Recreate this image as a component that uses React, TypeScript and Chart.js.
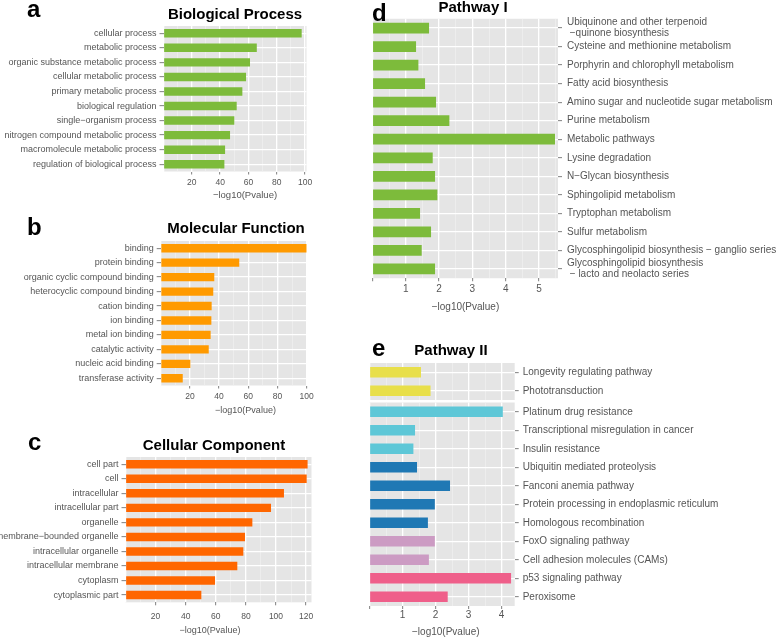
import React, { useEffect, useRef } from 'react';
import { Chart, registerables } from 'chart.js';

Chart.register(...registerables);

const FONT = "'Liberation Sans', Arial, Helvetica, sans-serif";
const TEXT_GREY = '#555555';
const TICK_GREY = '#7F7F7F';
const PANEL_BG = '#E5E5E5';

// ---------- data ----------
const bpLabels = [
  'cellular process',
  'metabolic process',
  'organic substance metabolic process',
  'cellular metabolic process',
  'primary metabolic process',
  'biological regulation',
  'single\u2212organism process',
  'nitrogen compound metabolic process',
  'macromolecule metabolic process',
  'regulation of biological process',
];
const bpValues = [97.6, 65.9, 61.1, 58.3, 55.7, 51.7, 50.0, 47.0, 43.5, 43.0];

const mfLabels = [
  'binding',
  'protein binding',
  'organic cyclic compound binding',
  'heterocyclic compound binding',
  'cation binding',
  'ion binding',
  'metal ion binding',
  'catalytic activity',
  'nucleic acid binding',
  'transferase activity',
];
const mfValues = [100, 53.8, 36.7, 36.0, 34.9, 34.7, 34.2, 32.9, 20.3, 15.1];

const ccLabels = [
  'cell part',
  'cell',
  'intracellular',
  'intracellular part',
  'organelle',
  'membrane\u2212bounded organelle',
  'intracellular organelle',
  'intracellular membrane',
  'cytoplasm',
  'cytoplasmic part',
];
const ccValues = [121.0, 120.4, 105.3, 96.7, 84.3, 79.4, 78.3, 74.3, 59.5, 50.4];

const p1Labels: (string | string[])[] = [
  ['Ubiquinone and other terpenoid', ' \u2212quinone biosynthesis'],
  'Cysteine and methionine metabolism',
  'Porphyrin and chlorophyll metabolism',
  'Fatty acid biosynthesis',
  'Amino sugar and nucleotide sugar metabolism',
  'Purine metabolism',
  'Metabolic pathways',
  'Lysine degradation',
  'N\u2212Glycan biosynthesis',
  'Sphingolipid metabolism',
  'Tryptophan metabolism',
  'Sulfur metabolism',
  'Glycosphingolipid biosynthesis \u2212 ganglio series',
  ['Glycosphingolipid biosynthesis', ' \u2212 lacto and neolacto series'],
];
const p1Values = [1.70, 1.31, 1.38, 1.58, 1.91, 2.31, 5.48, 1.81, 1.88, 1.95, 1.43, 1.76, 1.48, 1.88];

const p2TopLabels = ['Longevity regulating pathway', 'Phototransduction'];
const p2TopValues = [1.56, 1.85];
const p2TopColors = ['#E8DF4A', '#E8DF4A'];

const p2Labels = [
  'Platinum drug resistance',
  'Transcriptional misregulation in cancer',
  'Insulin resistance',
  'Ubiquitin mediated proteolysis',
  'Fanconi anemia pathway',
  'Protein processing in endoplasmic reticulum',
  'Homologous recombination',
  'FoxO signaling pathway',
  'Cell adhesion molecules (CAMs)',
  'p53 signaling pathway',
  'Peroxisome',
];
const p2Values = [4.04, 1.38, 1.33, 1.44, 2.44, 1.98, 1.77, 1.98, 1.80, 4.29, 2.37];
const p2Colors = [
  '#5EC7D7', '#5EC7D7', '#5EC7D7',
  '#1F78B4', '#1F78B4', '#1F78B4', '#1F78B4',
  '#CC9BC3', '#CC9BC3',
  '#EF5F8A', '#EF5F8A',
];

// ---------- chart building ----------
type Box = { x: number; y: number; w: number; h: number };
type Area = { l: number; t: number; r: number; b: number };
type Spec = {
  labels: (string | string[])[];
  values: number[];
  colors: string | string[];
  box: Box;
  area: Area;
  padBottom?: number;
  yPos: 'left' | 'right';
  xMax: number;
  major: number;
  minor: number;
  zeroTick: boolean;
  showX: boolean;
  labelFont: number;
  tickFont: number;
  xTickPad: number;
  yTickPad: number;
};

const panelBg = {
  id: 'panelBg',
  beforeDraw(chart: any) {
    const { ctx, chartArea } = chart;
    if (!chartArea) return;
    ctx.save();
    ctx.fillStyle = PANEL_BG;
    ctx.fillRect(chartArea.left, chartArea.top, chartArea.right - chartArea.left, chartArea.bottom - chartArea.top);
    ctx.restore();
  },
};

function buildConfig(p: Spec): any {
  const isMajor = (v: number) => Math.abs(v / p.major - Math.round(v / p.major)) < 1e-6;
  const padBottom = p.padBottom ?? 0;
  const padding =
    p.yPos === 'left'
      ? { left: 0, top: p.area.t - p.box.y, right: p.box.x + p.box.w - p.area.r, bottom: padBottom }
      : { left: p.area.l - p.box.x, top: p.area.t - p.box.y, right: 0, bottom: padBottom };
  const yWidth = p.yPos === 'left' ? p.area.l - p.box.x : p.box.x + p.box.w - p.area.r;
  const xHeight = p.box.y + p.box.h - padBottom - p.area.b;

  return {
    type: 'bar',
    data: {
      labels: p.labels,
      datasets: [
        {
          data: p.values,
          backgroundColor: p.colors,
          borderWidth: 0,
          barPercentage: 0.58,
          categoryPercentage: 1,
        },
      ],
    },
    options: {
      indexAxis: 'y',
      animation: false,
      responsive: false,
      maintainAspectRatio: false,
      events: [],
      layout: { padding },
      plugins: {
        legend: { display: false },
        tooltip: { enabled: false },
        title: { display: false },
      },
      scales: {
        x: {
          type: 'linear',
          min: 0,
          max: p.xMax,
          afterFit: (s: any) => {
            s.height = xHeight;
          },
          border: { display: false },
          grid: {
            color: (c: any) => (c.tick && !isMajor(c.tick.value) ? '#F2F2F2' : '#FFFFFF'),
            lineWidth: (c: any) => (c.tick && !isMajor(c.tick.value) ? 0.6 : 1.3),
            drawTicks: p.showX,
            tickLength: 3,
            tickWidth: 1,
            tickColor: (c: any) =>
              c.tick && isMajor(c.tick.value) && (p.zeroTick || c.tick.value !== 0)
                ? TICK_GREY
                : 'rgba(0,0,0,0)',
          },
          ticks: {
            display: p.showX,
            stepSize: p.minor,
            autoSkip: false,
            includeBounds: false,
            maxRotation: 0,
            minRotation: 0,
            padding: p.xTickPad,
            color: TEXT_GREY,
            font: { family: FONT, size: p.tickFont, lineHeight: 1.2 },
            callback: (v: any) => (isMajor(Number(v)) && Number(v) !== 0 ? String(v) : ''),
          },
        },
        y: {
          type: 'category',
          position: p.yPos,
          offset: true,
          afterFit: (s: any) => {
            s.width = yWidth;
          },
          border: { display: false },
          grid: {
            offset: false,
            color: '#FFFFFF',
            lineWidth: 1.3,
            drawTicks: true,
            tickLength: 4,
            tickWidth: 1,
            tickColor: TICK_GREY,
          },
          ticks: {
            autoSkip: false,
            padding: p.yTickPad,
            color: TEXT_GREY,
            font: { family: FONT, size: p.labelFont, lineHeight: 1.1 },
          },
        },
      },
    },
    plugins: [panelBg],
  };
}

const specs: Spec[] = [
  {
    labels: bpLabels, values: bpValues, colors: '#7DBB3B',
    box: { x: 0, y: -10, w: 320, h: 212 },
    area: { l: 163.5, t: 26, r: 306.5, b: 171.5 },
    yPos: 'left', xMax: 101, major: 20, minor: 10, zeroTick: false, showX: true,
    labelFont: 9, tickFont: 8.5, xTickPad: 3, yTickPad: 3,
  },
  {
    labels: mfLabels, values: mfValues, colors: '#FF9A00',
    box: { x: 0, y: 205, w: 320, h: 200 },
    area: { l: 160.7, t: 241, r: 306.7, b: 385.5 },
    yPos: 'left', xMax: 100, major: 20, minor: 10, zeroTick: false, showX: true,
    labelFont: 9, tickFont: 8.5, xTickPad: 3.5, yTickPad: 3,
  },
  {
    labels: ccLabels, values: ccValues, colors: '#FF6600',
    box: { x: 0, y: 420, w: 320, h: 219 },
    area: { l: 125.5, t: 457, r: 311.5, b: 602.3 },
    yPos: 'left', xMax: 123.6, major: 20, minor: 10, zeroTick: false, showX: true,
    labelFont: 9, tickFont: 8.5, xTickPad: 6, yTickPad: 3,
  },
  {
    labels: p1Labels, values: p1Values, colors: '#7DBB3B',
    box: { x: 355, y: -10, w: 423, h: 320 },
    area: { l: 372.4, t: 18.75, r: 558, b: 278.25 },
    yPos: 'right', xMax: 5.57, major: 1, minor: 0.5, zeroTick: true, showX: true,
    labelFont: 10, tickFont: 10, xTickPad: 2, yTickPad: 5,
  },
  {
    labels: p2TopLabels, values: p2TopValues, colors: p2TopColors,
    box: { x: 350, y: 330, w: 428, h: 85 },
    area: { l: 369.5, t: 363, r: 514.7, b: 400 },
    padBottom: 15,
    yPos: 'right', xMax: 4.4, major: 1, minor: 0.5, zeroTick: true, showX: false,
    labelFont: 10, tickFont: 10, xTickPad: 0, yTickPad: 4,
  },
  {
    labels: p2Labels, values: p2Values, colors: p2Colors,
    box: { x: 350, y: 385, w: 428, h: 254 },
    area: { l: 369.5, t: 402.5, r: 514.7, b: 606 },
    yPos: 'right', xMax: 4.4, major: 1, minor: 0.5, zeroTick: true, showX: true,
    labelFont: 10, tickFont: 10, xTickPad: 0, yTickPad: 4,
  },
];

function ChartPanel({ spec }: { spec: Spec }) {
  const ref = useRef<HTMLCanvasElement>(null);
  useEffect(() => {
    const chart = new Chart(ref.current as HTMLCanvasElement, buildConfig(spec));
    return () => chart.destroy();
  }, [spec]);
  return (
    <canvas
      ref={ref}
      width={spec.box.w}
      height={spec.box.h}
      style={{
        position: 'absolute',
        left: spec.box.x,
        top: spec.box.y,
        width: spec.box.w,
        height: spec.box.h,
      }}
    />
  );
}

type TextItem = { text: string; x: number; y: number; size: number; bold?: boolean; color?: string; center?: boolean };

const texts: TextItem[] = [
  // panel letters
  { text: 'a', x: 27, y: -3.5, size: 24, bold: true },
  { text: 'b', x: 27, y: 214.7, size: 24, bold: true },
  { text: 'c', x: 28, y: 429.7, size: 24, bold: true },
  { text: 'd', x: 372, y: 0.7, size: 24, bold: true },
  { text: 'e', x: 372, y: 335.7, size: 24, bold: true },
  // panel titles
  { text: 'Biological Process', x: 235, y: 6.3, size: 15, bold: true, center: true },
  { text: 'Molecular Function', x: 236, y: 220, size: 15, bold: true, center: true },
  { text: 'Cellular Component', x: 214, y: 436.6, size: 15, bold: true, center: true },
  { text: 'Pathway I', x: 473, y: -1, size: 15, bold: true, center: true },
  { text: 'Pathway II', x: 451, y: 342.3, size: 15, bold: true, center: true },
  // axis titles
  { text: '\u2212log10(Pvalue)', x: 245, y: 190.4, size: 9.5, color: TEXT_GREY, center: true },
  { text: '\u2212log10(Pvalue)', x: 245.5, y: 405.6, size: 9, color: TEXT_GREY, center: true },
  { text: '\u2212log10(Pvalue)', x: 210, y: 625.6, size: 9, color: TEXT_GREY, center: true },
  { text: '\u2212log10(Pvalue)', x: 465.5, y: 301.8, size: 10, color: TEXT_GREY, center: true },
  { text: '\u2212log10(Pvalue)', x: 445.8, y: 627.4, size: 10, color: TEXT_GREY, center: true },
];

export default function App() {
  return (
    <div
      style={{
        position: 'absolute',
        left: 0,
        top: 0,
        width: 778,
        height: 639,
        overflow: 'hidden',
        background: '#FFFFFF',
        fontFamily: FONT,
      }}
    >
      {specs.map((s, i) => (
        <ChartPanel key={i} spec={s} />
      ))}
      {texts.map((t, i) => (
        <div
          key={'t' + i}
          style={{
            position: 'absolute',
            left: t.center ? t.x - 150 : t.x,
            width: t.center ? 300 : undefined,
            top: t.y,
            fontSize: t.size,
            lineHeight: t.size + 'px',
            fontWeight: t.bold ? 700 : 400,
            color: t.color ?? '#000000',
            textAlign: t.center ? 'center' : 'left',
            whiteSpace: 'nowrap',
            fontFamily: FONT,
          }}
        >
          {t.text}
        </div>
      ))}
    </div>
  );
}
